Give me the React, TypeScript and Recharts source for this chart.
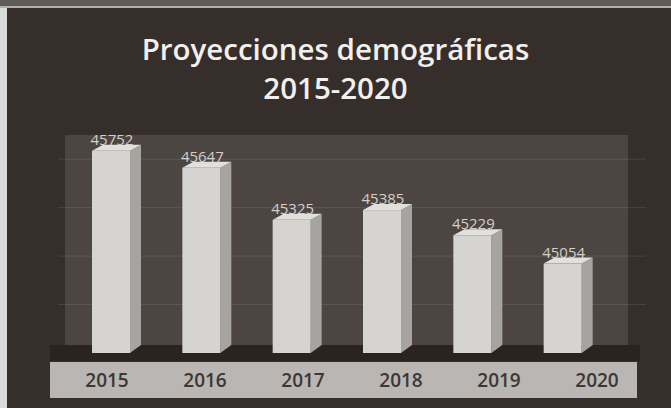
import React from 'react';
import { BarChart, Bar, XAxis, YAxis, CartesianGrid, LabelList } from 'recharts';

const years = ['2015', '2016', '2017', '2018', '2019', '2020'];
const population = [45752, 45647, 45325, 45385, 45229, 45054];
const gridTicks = [44800, 45100, 45400, 45700];

const data = years.map((year, i) => ({ year, value: population[i] }));

const DEPTH_X = 11;
const DEPTH_Y = 6;

// 3D-looking bar: front face + right side + top
const Box = (props: any) => {
  const { x, y, width, height } = props;
  if (height <= 0) return null;
  const r = x + width;
  const b = y + height;
  return (
    <g>
      <polygon
        points={`${r},${y} ${r + DEPTH_X},${y - DEPTH_Y} ${r + DEPTH_X},${b - DEPTH_Y - 2} ${r},${b}`}
        fill="#a6a3a0"
      />
      <polygon
        points={`${x},${y} ${x + DEPTH_X},${y - DEPTH_Y} ${r + DEPTH_X},${y - DEPTH_Y} ${r},${y}`}
        fill="#e2e0dd"
      />
      <rect x={x} y={y} width={width} height={height} fill="#d6d4d1" />
    </g>
  );
};

const ValueLabel = (props: any) => {
  const { x, y, width, value } = props;
  return (
    <text
      x={x + width / 2 + 1}
      y={y - 6}
      textAnchor="middle"
      fill="#d2cfcc"
      fontSize={15}
      fontFamily="'Open Sans', sans-serif"
    >
      {value}
    </text>
  );
};

export default function App() {
  return (
    <div
      style={{
        position: 'absolute',
        left: 0,
        top: 0,
        width: 671,
        height: 408,
        background: '#362e2a',
        overflow: 'hidden',
        fontFamily: "'Open Sans', sans-serif",
      }}
    >
      {/* photo edges */}
      <div style={{ position: 'absolute', left: 0, top: 0, width: 671, height: 6, background: '#5f5a56' }} />
      <div style={{ position: 'absolute', left: 0, top: 6, width: 671, height: 2, background: '#b4b0ac' }} />
      <div style={{ position: 'absolute', left: 0, top: 8, width: 7, height: 400, background: '#dadcdc' }} />

      {/* back wall, floor, axis band */}
      <div style={{ position: 'absolute', left: 65, top: 135, width: 563, height: 210, background: '#4c4542' }} />
      <div style={{ position: 'absolute', left: 50, top: 345, width: 590, height: 16, background: '#2b2320' }} />
      <div style={{ position: 'absolute', left: 50, top: 362, width: 587, height: 36, background: '#b9b6b3' }} />

      <div
        style={{
          position: 'absolute',
          left: 0,
          top: 29,
          width: 671,
          textAlign: 'center',
          color: '#f2f0ee',
          fontSize: 29.5,
          fontWeight: 600,
          lineHeight: '39px',
        }}
      >
        <div>Proyecciones demográficas</div>
        <div>2015-2020</div>
      </div>

      <div style={{ position: 'absolute', left: 0, top: 0 }}>
        <BarChart
          width={671}
          height={408}
          data={data}
          margin={{ top: 135, right: 25, bottom: 25, left: 58 }}
        >
          <CartesianGrid
            horizontal
            vertical={false}
            stroke="rgba(255,255,255,0.1)"
            horizontalValues={gridTicks}
          />
          <YAxis hide domain={[44500, 45850]} ticks={gridTicks} allowDataOverflow />
          <XAxis
            xAxisId="bars"
            dataKey="year"
            hide
            height={0}
            padding={{ left: 8, right: 38 }}
          />
          <XAxis
            xAxisId="labels"
            dataKey="year"
            height={30}
            axisLine={false}
            tickLine={false}
            tickMargin={15}
            tick={{ fill: '#3b3836', fontSize: 19, fontWeight: 600, fontFamily: "'Open Sans', sans-serif" }}
          />
          <Bar
            xAxisId="bars"
            dataKey="value"
            barSize={38}
            shape={<Box />}
            isAnimationActive={false}
          >
            <LabelList dataKey="value" content={<ValueLabel />} />
          </Bar>
        </BarChart>
      </div>
    </div>
  );
}
